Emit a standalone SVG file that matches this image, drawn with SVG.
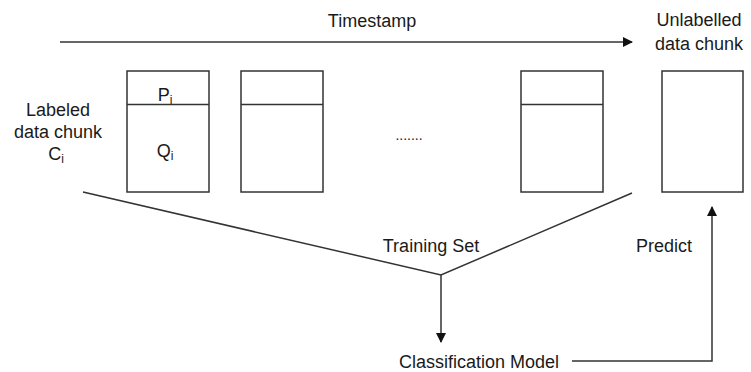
<svg xmlns="http://www.w3.org/2000/svg" width="751" height="372" viewBox="0 0 751 372">
<style>
text{font-family:"Liberation Sans",Arial,sans-serif;font-size:18px;fill:#1a1a1a}
.box{fill:#fff;stroke:#333;stroke-width:1.5}
.ln{fill:none;stroke:#333;stroke-width:1.5}
.sub{font-size:12px}
</style>
<defs>
<marker id="ah" markerWidth="10" markerHeight="10" refX="9" refY="5" orient="auto" markerUnits="userSpaceOnUse">
<path d="M0,0 L10,5 L0,10 z" fill="#111"/>
</marker>
</defs>
<rect width="751" height="372" fill="#fff"/>
<g id="timestamp">
<text x="372" y="27" text-anchor="middle">Timestamp</text>
</g>
<g id="labeled-label">
<text x="58" y="116" text-anchor="middle">Labeled</text>
<text x="58" y="138" text-anchor="middle">data chunk</text>
<text x="56" y="160" text-anchor="middle">C<tspan class="sub" dy="3">i</tspan></text>
</g>
<g id="chunk1">
<rect class="box" x="127" y="71" width="82" height="121"/>
<line class="ln" x1="127" y1="104.5" x2="209" y2="104.5"/>
<text x="165" y="101" text-anchor="middle">P<tspan class="sub" dy="3">i</tspan></text>
<text x="165" y="157" text-anchor="middle">Q<tspan class="sub" dy="3">i</tspan></text>
</g>
<g id="chunk2">
<rect class="box" x="241" y="71" width="82" height="121"/>
<line class="ln" x1="241" y1="104.5" x2="323" y2="104.5"/>
</g>
<g id="dots">
<text x="409" y="140" text-anchor="middle" style="font-size:14px">.......</text>
</g>
<g id="chunk3">
<rect class="box" x="521" y="71" width="82" height="121"/>
<line class="ln" x1="521" y1="104.5" x2="603" y2="104.5"/>
</g>
<g id="unlabelled">
<text x="699" y="26" text-anchor="middle">Unlabelled</text>
<text x="699" y="50" text-anchor="middle">data chunk</text>
<rect class="box" x="662" y="71" width="81" height="121"/>
</g>
<g id="training-set">
<text x="431" y="252" text-anchor="middle">Training Set</text>
</g>
<g id="predict">
<text x="664" y="252" text-anchor="middle">Predict</text>
</g>
<g id="classification-model">
<text x="479" y="368" text-anchor="middle">Classification Model</text>
</g>
<g id="connectors">
<line class="ln" x1="60" y1="42" x2="632" y2="42" marker-end="url(#ah)"/>
<polyline class="ln" points="83,192 441,275 632,193"/>
<line class="ln" x1="441" y1="275" x2="441" y2="342" marker-end="url(#ah)"/>
<polyline class="ln" points="572,361 712,361 712,207" marker-end="url(#ah)"/>
</g>
</svg>
